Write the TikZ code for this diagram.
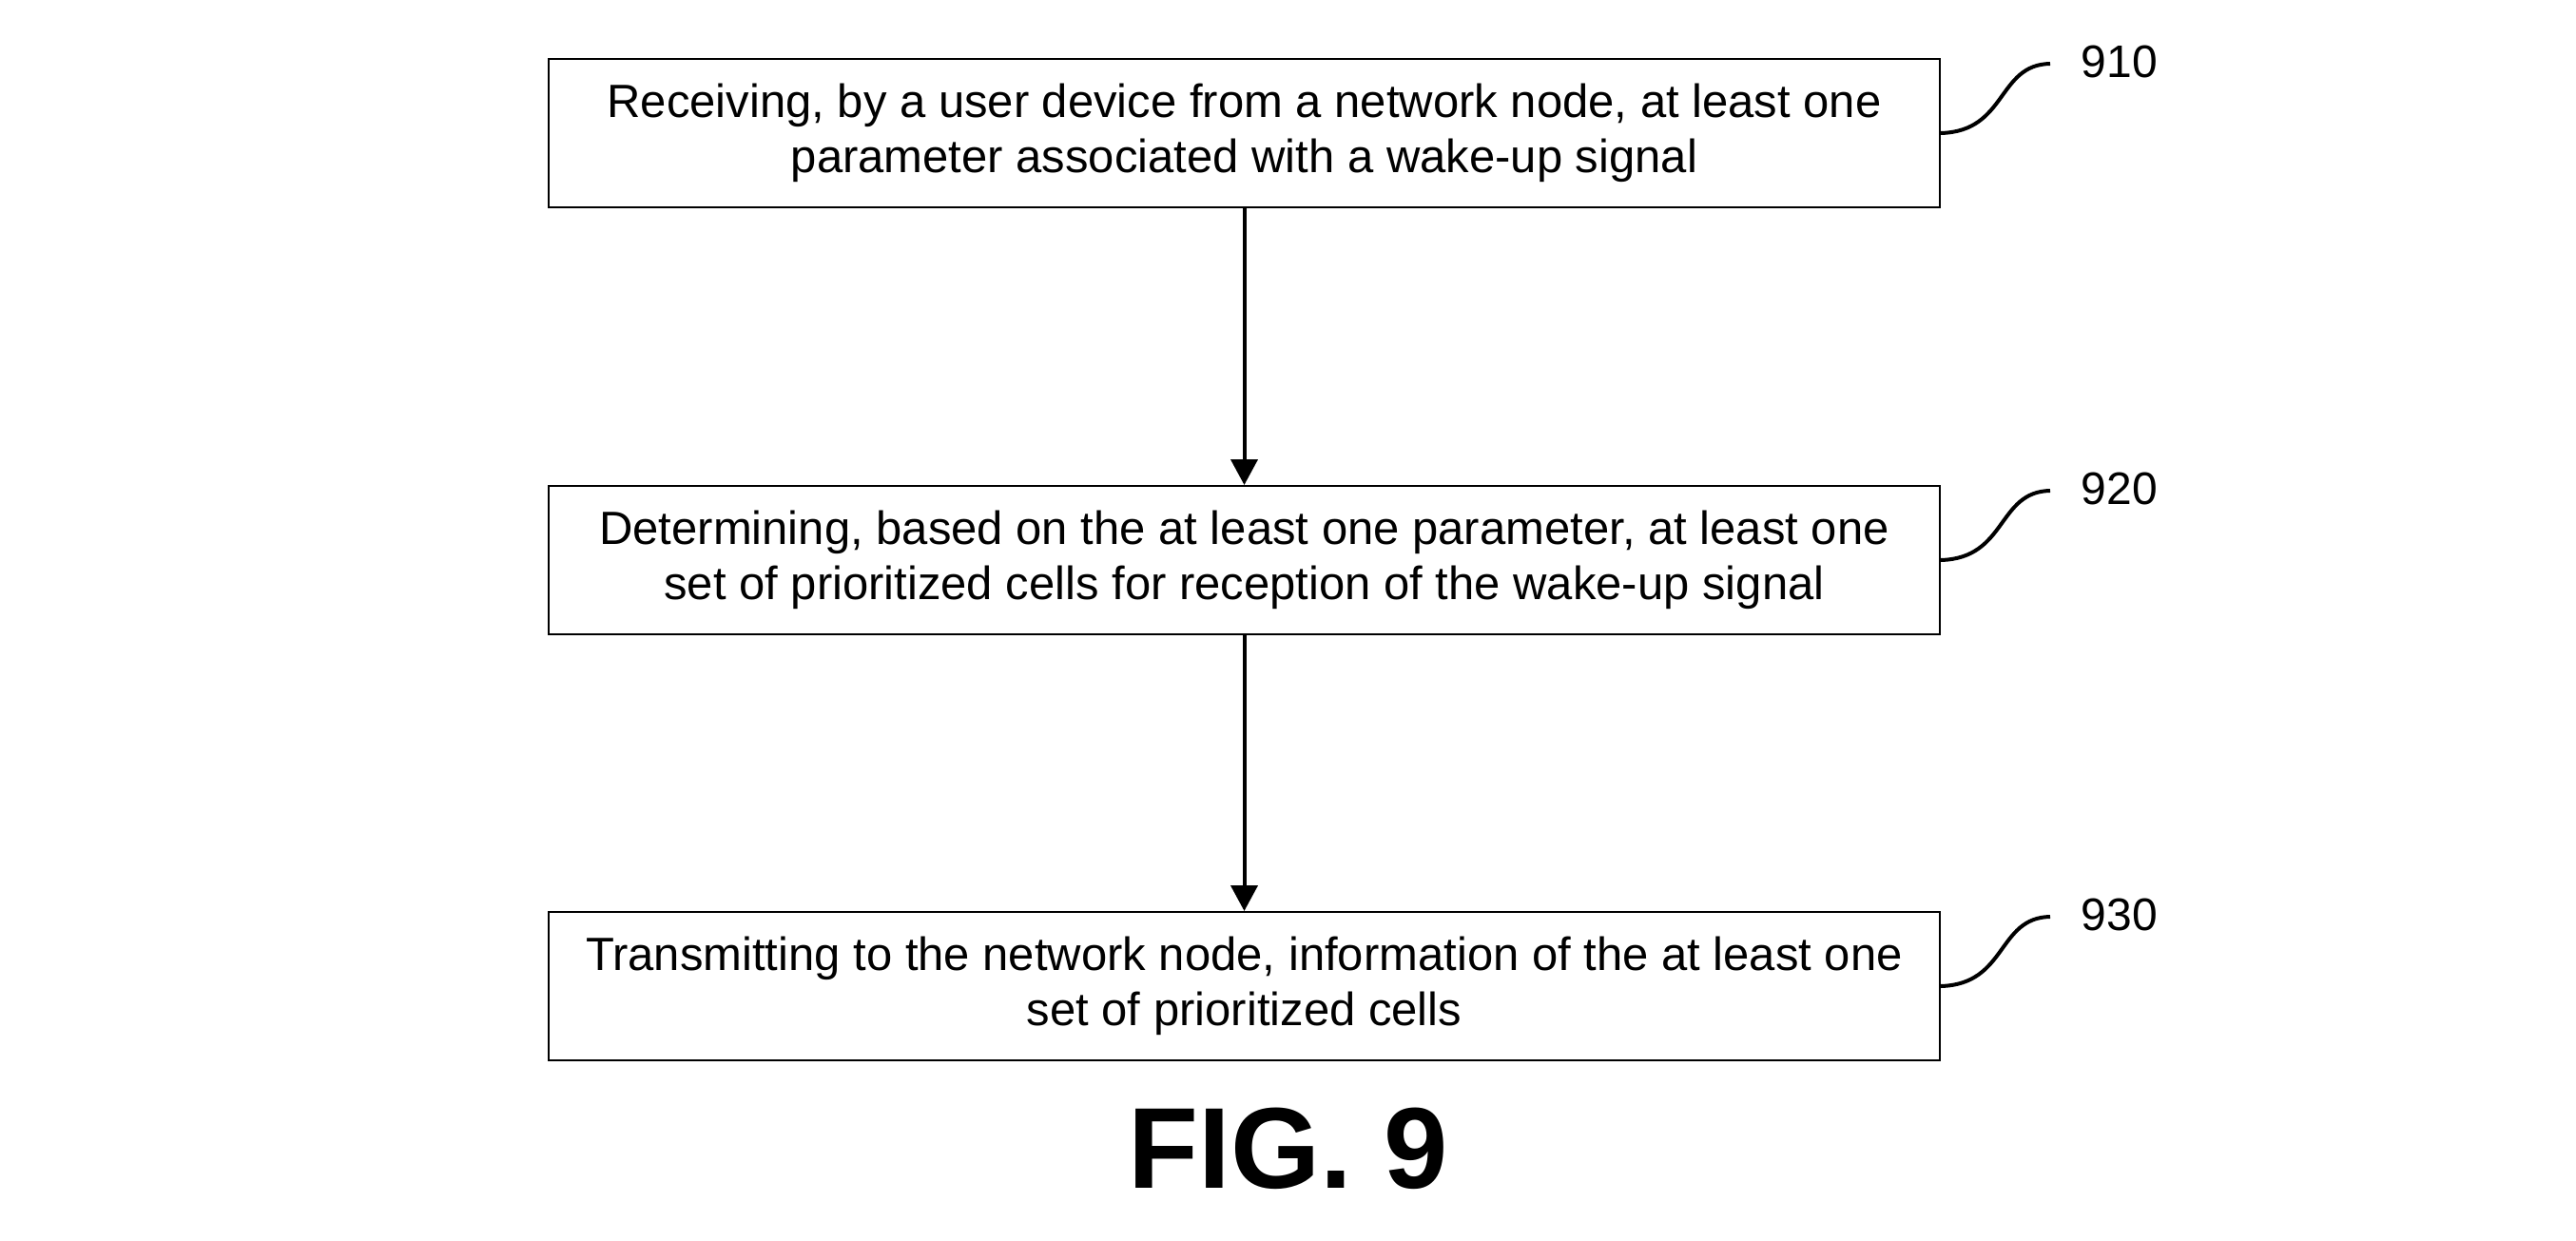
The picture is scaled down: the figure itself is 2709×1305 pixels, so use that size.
\documentclass[tikz,border=0pt]{standalone}
\usepackage{fontspec}
\setmainfont{Liberation Sans}
\usetikzlibrary{arrows.meta}
\begin{document}
\begin{tikzpicture}[x=1pt,y=-1pt,
  stepbox/.style={draw=black,line width=2pt,minimum width=1463pt,minimum height=156pt,
    inner sep=0pt,align=center,font=\fontsize{49}{58}\selectfont},
  flow/.style={line width=4pt,-{Triangle[width=28pt,length=27pt]}},
  leader/.style={line width=4pt},
  reflabel/.style={inner sep=0pt,font=\fontsize{48}{58}\selectfont}]
\useasboundingbox (0,0) rectangle (2709,1305);

\node[stepbox] (s910) at (1308.5,140) {Receiving, by a user device from a network node, at least one\\parameter associated with a wake-up signal};
\node[stepbox] (s920) at (1308.5,589) {Determining, based on the at least one parameter, at least one\\set of prioritized cells for reception of the wake-up signal};
\node[stepbox] (s930) at (1308.5,1037) {Transmitting to the network node, information of the at least one\\set of prioritized cells};

\draw[flow] (s910.south) -- (s920.north);
\draw[flow] (s920.south) -- (s930.north);

% reference numerals with their leader curves
\foreach \n/\y in {910/140,920/589,930/1037}{
  \node[reflabel] (l\n) at (2229,\y-75) {\n};
  \coordinate (e\n) at (2156,\y-73);
  \draw[leader] (s\n.east) .. controls ++(70,-2) and ++(-56,1) .. (e\n);
}

\node[font=\fontsize{121}{130}\selectfont\bfseries,inner sep=0pt] (fig) at (1355,1208) {FIG. 9};
\end{tikzpicture}
\end{document}
